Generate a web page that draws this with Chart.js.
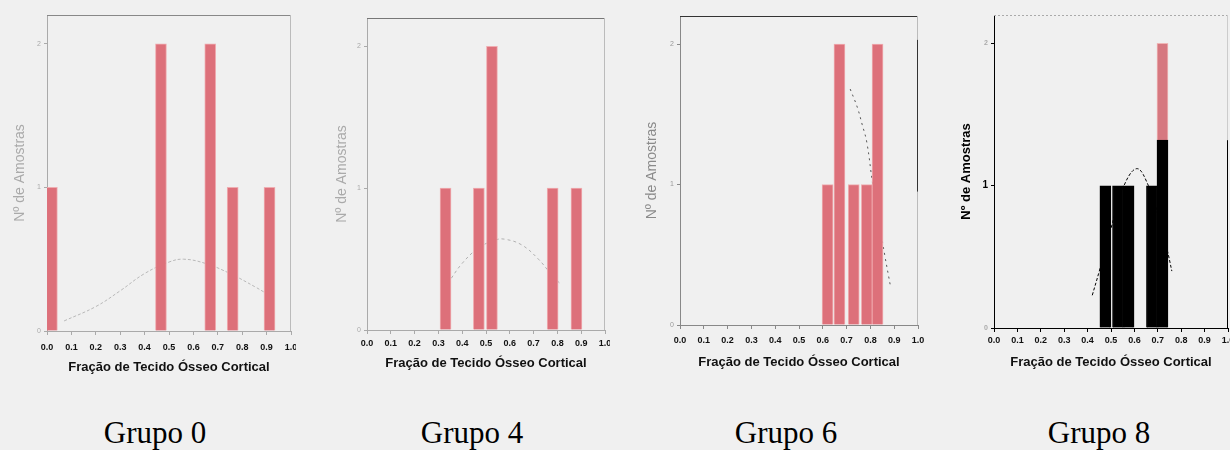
<!DOCTYPE html>
<html>
<head>
<meta charset="utf-8">
<script src="https://cdn.jsdelivr.net/npm/chart.js@4/dist/chart.umd.min.js"></script>
<style>
  body { margin: 0; background: #f0f0f0; width: 1230px; height: 450px; overflow: hidden; position: relative; }
  .panel { position: absolute; top: 0; height: 380px; }
  .grupo { position: absolute; top: 415px; font-family: "Liberation Serif", serif; font-size: 31px; color: #000; transform: translateX(-50%); white-space: nowrap; }
</style>
</head>
<body>
<div class="panel" style="left:7px;width:289px"><canvas id="c0"></canvas></div>
<div class="panel" style="left:327px;width:283px"><canvas id="c4"></canvas></div>
<div class="panel" style="left:640px;width:284px"><canvas id="c6"></canvas></div>
<div class="panel" style="left:954px;width:276px"><canvas id="c8"></canvas></div>
<div class="grupo" style="left:155px">Grupo 0</div>
<div class="grupo" style="left:472px">Grupo 4</div>
<div class="grupo" style="left:786px">Grupo 6</div>
<div class="grupo" style="left:1099px">Grupo 8</div>
<script>
// bar positions (fraction of cortical bone) and counts
const g0Bins = [0.02, 0.467, 0.669, 0.761, 0.912];
const g0Counts = [1, 2, 2, 1, 1];
const g0CurveX = [0.07, 0.2, 0.3, 0.4, 0.5, 0.56, 0.65, 0.75, 0.85, 0.92];
const g0CurveY = [0.07, 0.17, 0.28, 0.4, 0.48, 0.5, 0.47, 0.4, 0.31, 0.24];

const g4Bins = [0.33, 0.47, 0.525, 0.78, 0.88];
const g4Counts = [1, 1, 2, 1, 1];
const g4CurveX = [0.34, 0.4, 0.47, 0.54, 0.58, 0.65, 0.72, 0.78, 0.81];
const g4CurveY = [0.33, 0.47, 0.58, 0.635, 0.64, 0.6, 0.5, 0.38, 0.33];

const g6Bins = [0.62, 0.67, 0.73, 0.785, 0.83];
const g6Counts = [1, 2, 1, 1, 2];
const g6CurveX = [0.715, 0.745, 0.765, 0.785, 0.81, 0.84, 0.86, 0.885];
const g6CurveY = [1.68, 1.55, 1.43, 1.3, 1.0, 0.7, 0.5, 0.27];

const g8Bins = [0.476, 0.53, 0.575, 0.675, 0.72];
const g8Black = [1, 1, 1, 1, 1.32];
const g8Pink = [0, 0, 0, 0, 0.68];
const g8CurveX = [0.42, 0.45, 0.5, 0.55, 0.61, 0.66, 0.7, 0.74, 0.76];
const g8CurveY = [0.23, 0.4, 0.7, 0.98, 1.12, 1.0, 0.8, 0.55, 0.4];

const xTicks = [0, 0.1, 0.2, 0.3, 0.4, 0.5, 0.6, 0.7, 0.8, 0.9, 1.0];
const yTicks = [0, 1, 2];
const xTitle = 'Fração de Tecido Ósseo Cortical';
const yTitle = 'Nº de Amostras';

const pts = (xs, ys) => xs.map((x, i) => ({ x: x, y: ys[i] }));
const tickVal = c => (c && c.tick ? c.tick.value : null);

// frame lines round the plot area (scanned figure has uneven edges)
const framePlugin = {
  id: 'frame',
  beforeDatasetsDraw(chart, args, opts) {
    const a = chart.chartArea, ctx = chart.ctx, y = chart.scales.y;
    ctx.save();
    ctx.lineWidth = 1;
    ctx.strokeStyle = opts.top;
    ctx.setLineDash(opts.topDash || []);
    ctx.beginPath(); ctx.moveTo(a.left, a.top + 0.5); ctx.lineTo(a.right, a.top + 0.5); ctx.stroke();
    ctx.setLineDash([]);
    ctx.strokeStyle = opts.side;
    ctx.beginPath(); ctx.moveTo(a.right - 0.5, a.top); ctx.lineTo(a.right - 0.5, a.bottom); ctx.stroke();
    (opts.segments || []).forEach(s => {
      const x = s.side === 'left' ? a.left + 0.5 : a.right - 0.5;
      ctx.strokeStyle = s.color;
      ctx.lineWidth = s.width || 1;
      ctx.beginPath(); ctx.moveTo(x, y.getPixelForValue(s.from)); ctx.lineTo(x, y.getPixelForValue(s.to)); ctx.stroke();
    });
    ctx.restore();
  }
};

function makeChart(id, cfg) {
  const datasets = cfg.bars.map(b => ({
    type: 'bar',
    data: pts(cfg.bins, b.values),
    backgroundColor: b.color,
    borderColor: b.border,
    borderWidth: 1,
    barThickness: 11,
    order: 1
  }));
  datasets.push({
    type: 'line',
    data: pts(cfg.curveX, cfg.curveY),
    borderColor: cfg.curveColor,
    borderWidth: 1,
    borderDash: cfg.curveDash,
    pointRadius: 0,
    tension: 0.4,
    stack: 'curve',
    order: 2
  });
  return new Chart(document.getElementById(id), {
    type: 'bar',
    data: { datasets: datasets },
    plugins: [framePlugin],
    options: {
      responsive: true,
      maintainAspectRatio: false,
      animation: false,
      layout: { padding: { top: cfg.top, right: cfg.right, left: 0, bottom: cfg.padBottom } },
      plugins: {
        legend: { display: false },
        tooltip: { enabled: false },
        frame: { top: cfg.frameTop, topDash: cfg.frameTopDash, side: cfg.frameSide, segments: cfg.segments }
      },
      scales: {
        x: {
          type: 'linear', min: 0, max: 1, stacked: true, offset: false,
          afterBuildTicks: s => { s.ticks = xTicks.map(v => ({ value: v })); },
          afterFit: s => { s.height = 380 - cfg.padBottom - cfg.bottom; s.paddingLeft = 0; s.paddingRight = 0; },
          border: { color: cfg.axisColor, dash: cfg.xDash },
          grid: { drawOnChartArea: false, offset: false, tickLength: 4, color: cfg.axisColor },
          ticks: {
            autoSkip: false, maxRotation: 0, padding: cfg.tickPad,
            color: '#111', font: { family: 'Liberation Sans', size: 9, weight: 'bold' },
            callback: v => v.toFixed(1)
          },
          title: {
            display: true, text: xTitle, color: '#111',
            font: { family: 'Liberation Sans', size: 13, weight: 'bold' },
            padding: { top: 2, bottom: 0 }
          }
        },
        y: {
          min: 0, max: 2.2, stacked: true,
          afterBuildTicks: s => { s.ticks = yTicks.map(v => ({ value: v })); },
          afterFit: s => { s.width = 40; s.paddingTop = 0; s.paddingBottom = 0; },
          border: { color: cfg.axisColor },
          grid: { drawOnChartArea: false, tickLength: 3, color: cfg.axisColor },
          ticks: {
            padding: 3, color: cfg.yTickColor,
            font: c => ({ family: 'Liberation Sans', size: cfg.yTickSize(tickVal(c)), weight: cfg.yWeight })
          },
          title: {
            display: true, text: yTitle, color: cfg.yTitleColor,
            font: { family: 'Liberation Sans', size: cfg.yTitleSize, weight: cfg.yWeight },
            padding: { top: cfg.yTitlePad, bottom: 0 }
          }
        }
      }
    }
  });
}

const pink = 'rgb(221,112,122)';
const pinkEdge = 'rgba(238,165,170,0.9)';

makeChart('c0', {
  bins: g0Bins, bars: [{ values: g0Counts, color: pink, border: pinkEdge }],
  curveX: g0CurveX, curveY: g0CurveY, curveColor: '#b8b8b8', curveDash: [3, 2],
  top: 15, bottom: 331, right: 5, padBottom: 5, tickPad: 7,
  axisColor: '#aaa', xDash: [2, 1], frameTop: '#888', frameSide: '#bbb',
  yTickColor: '#aaa', yTickSize: () => 7, yTitleColor: '#aaa', yTitleSize: 14, yTitlePad: 5, yWeight: 'normal'
});
makeChart('c4', {
  bins: g4Bins, bars: [{ values: g4Counts, color: pink, border: pinkEdge }],
  curveX: g4CurveX, curveY: g4CurveY, curveColor: '#b0b0b0', curveDash: [3, 3],
  top: 18, bottom: 330, right: 5, padBottom: 9, tickPad: 4,
  axisColor: '#aaa', xDash: [2, 1], frameTop: '#777', frameSide: '#bbb',
  yTickColor: '#aaa', yTickSize: () => 7, yTitleColor: '#aaa', yTitleSize: 14, yTitlePad: 7, yWeight: 'normal'
});
makeChart('c6', {
  bins: g6Bins, bars: [{ values: g6Counts, color: pink, border: pinkEdge }],
  curveX: g6CurveX, curveY: g6CurveY, curveColor: '#555', curveDash: [2, 4],
  top: 16, bottom: 325, right: 6, padBottom: 10, tickPad: 6,
  axisColor: '#888', xDash: [2, 1], frameTop: '#333', frameSide: '#bbb',
  segments: [{ side: 'right', from: 2.03, to: 0.95, color: '#333' }],
  yTickColor: '#999', yTickSize: () => 7, yTitleColor: '#8a8a8a', yTitleSize: 14, yTitlePad: 4, yWeight: 'normal'
});
makeChart('c8', {
  bins: g8Bins,
  bars: [
    { values: g8Black, color: '#000', border: '#000' },
    { values: g8Pink, color: 'rgb(214,120,128)', border: 'rgba(238,175,175,0.9)' }
  ],
  curveX: g8CurveX, curveY: g8CurveY, curveColor: '#000', curveDash: [3, 2],
  top: 15, bottom: 328, right: 2, padBottom: 10, tickPad: 3,
  axisColor: '#000', xDash: [], frameTop: '#aaa', frameTopDash: [2, 2], frameSide: '#ccc',
  segments: [{ side: 'right', from: 1.32, to: 0, color: '#000' }],
  yTickColor: c => (tickVal(c) === 1 ? '#000' : '#aaa'), yTickSize: v => (v === 1 ? 10 : 7),
  yTitleColor: '#000', yTitleSize: 13, yTitlePad: 5, yWeight: 'bold'
});
</script>
</body>
</html>
